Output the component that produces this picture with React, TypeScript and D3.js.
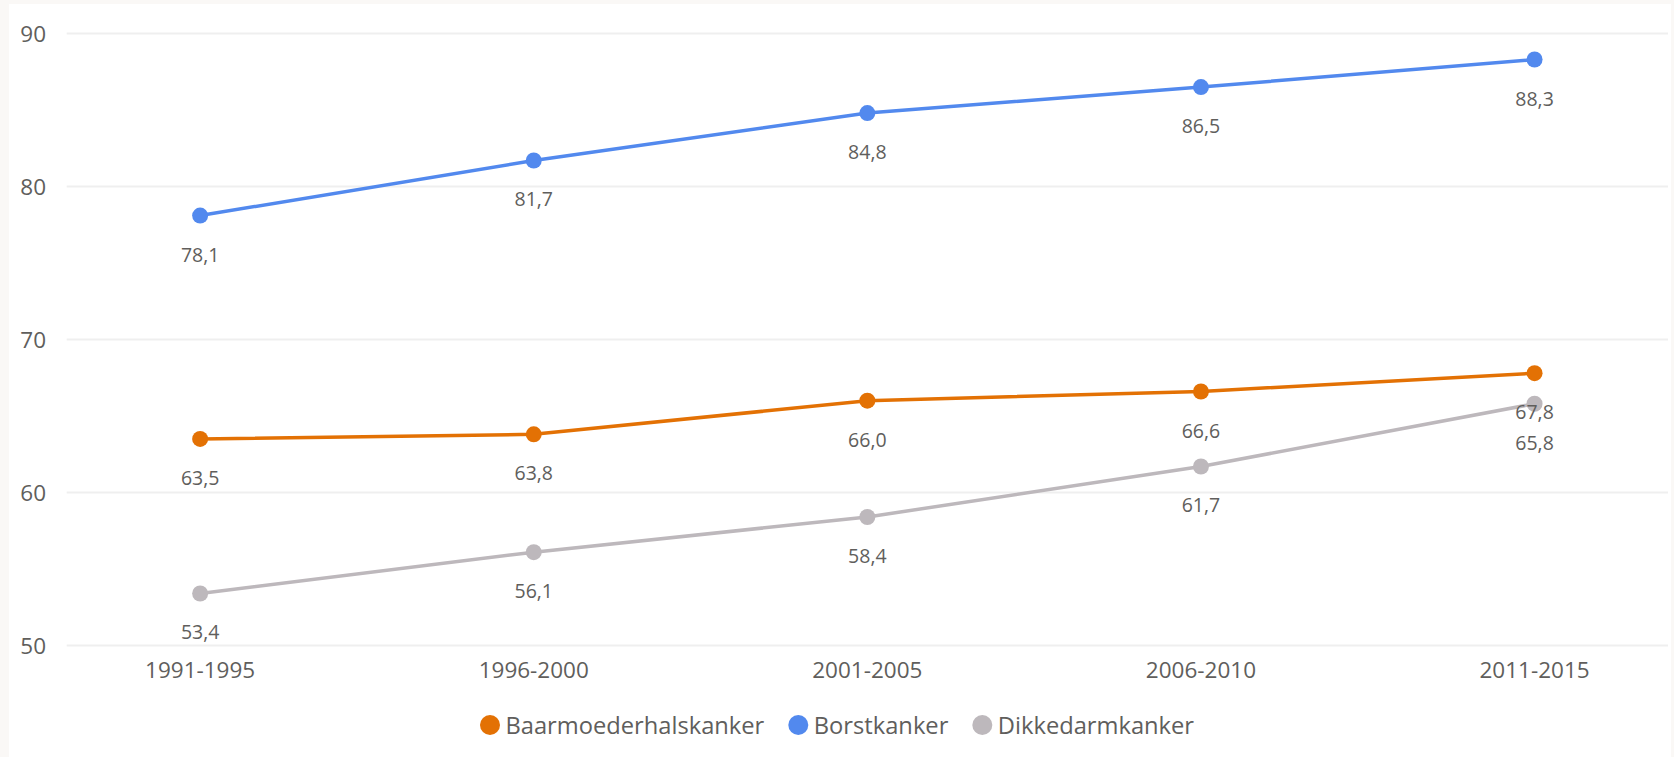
import { useLayoutEffect, useRef, useState } from "react";
import * as d3 from "d3";

const W = 1674;
const H = 757;
const MARGIN = { top: 33.5, right: 6, bottom: 111.5, left: 66.7 };

const periods = ["1991-1995", "1996-2000", "2001-2005", "2006-2010", "2011-2015"];
const baarmoederhalskanker = [63.5, 63.8, 66.0, 66.6, 67.8];
const borstkanker = [78.1, 81.7, 84.8, 86.5, 88.3];
const dikkedarmkanker = [53.4, 56.1, 58.4, 61.7, 65.8];
const yTicks = [50, 60, 70, 80, 90];

const seriesNames = ["Baarmoederhalskanker", "Borstkanker", "Dikkedarmkanker"];
const seriesColors = ["#E37104", "#5289EE", "#BDB8BC"];

const FONT = "'Open Sans', 'Noto Sans', sans-serif";
const TEXT = "#605E5C";

const nl = d3.formatLocale({ decimal: ",", thousands: ".", grouping: [3], currency: ["€", ""] });
const fmt = nl.format(".1f");

export default function App() {
  const series = [baarmoederhalskanker, borstkanker, dikkedarmkanker].map((values, i) => ({
    name: seriesNames[i],
    color: seriesColors[i],
    values,
  }));

  const x = d3
    .scalePoint<string>()
    .domain(periods)
    .range([MARGIN.left, W - MARGIN.right])
    .padding(0.4);
  const y = d3.scaleLinear().domain([50, 90]).range([H - MARGIN.bottom, MARGIN.top]);

  const line = d3
    .line<number>()
    .x((_, i) => x(periods[i]) as number)
    .y((d) => y(d));

  // legend: measure text widths, then center the row
  const textRefs = useRef<(SVGTextElement | null)[]>([]);
  const [widths, setWidths] = useState<number[]>([255, 133, 195]);
  useLayoutEffect(() => {
    const w = textRefs.current.map((t) => (t ? t.getComputedTextLength() : 0));
    if (w.some((v, i) => Math.abs(v - widths[i]) > 0.5)) setWidths(w);
  }, []);
  const R = 10;
  const TXT_GAP = 15.5;
  const ITEM_GAP = 24;
  const itemW = widths.map((w) => R + TXT_GAP + w);
  const total = d3.sum(itemW) + ITEM_GAP * (itemW.length - 1);
  let cursor = W / 2 - total / 2;
  const legendX = itemW.map((w) => {
    const start = cursor;
    cursor += w + ITEM_GAP;
    return start;
  });

  return (
    <svg width={W} height={H} style={{ position: "absolute", left: 0, top: 0, fontFamily: FONT }}>
      <rect width={W} height={H} fill="#FAF8F6" />
      <rect x={9} y={4} width={W - 12} height={H - 4} fill="#ffffff" />

      {/* gridlines + y ticks */}
      {yTicks.map((t) => (
        <g key={t}>
          <line x1={MARGIN.left} x2={W - MARGIN.right} y1={y(t)} y2={y(t)} stroke="#EFEFEF" strokeWidth={2} />
          <text x={46} y={y(t)} textAnchor="end" dominantBaseline="central" fontSize={22.5} fill={TEXT}>
            {t}
          </text>
        </g>
      ))}

      {/* x ticks */}
      {periods.map((p) => (
        <text key={p} x={x(p)} y={669} textAnchor="middle" dominantBaseline="central" fontSize={22.5} fill={TEXT}>
          {p}
        </text>
      ))}

      {/* lines and markers */}
      {series.map((s) => (
        <g key={s.name}>
          <path d={line(s.values) || ""} fill="none" stroke={s.color} strokeWidth={3.5} />
          {s.values.map((v, i) => (
            <circle key={i} cx={x(periods[i])} cy={y(v)} r={8} fill={s.color} />
          ))}
        </g>
      ))}

      {/* data labels */}
      {series.map((s) =>
        s.values.map((v, i) => (
          <text
            key={s.name + i}
            x={x(periods[i])}
            y={y(v) + 38.5}
            textAnchor="middle"
            dominantBaseline="central"
            fontSize={19.5}
            fill={TEXT}
          >
            {fmt(v)}
          </text>
        ))
      )}

      {/* legend */}
      {series.map((s, i) => (
        <g key={s.name} transform={`translate(${legendX[i]},725)`}>
          <circle cx={R} cy={0} r={R} fill={s.color} />
          <text
            ref={(el) => {
              textRefs.current[i] = el;
            }}
            x={R + TXT_GAP}
            y={0}
            dominantBaseline="central"
            fontSize={23.7}
            fill={TEXT}
          >
            {s.name}
          </text>
        </g>
      ))}
    </svg>
  );
}
